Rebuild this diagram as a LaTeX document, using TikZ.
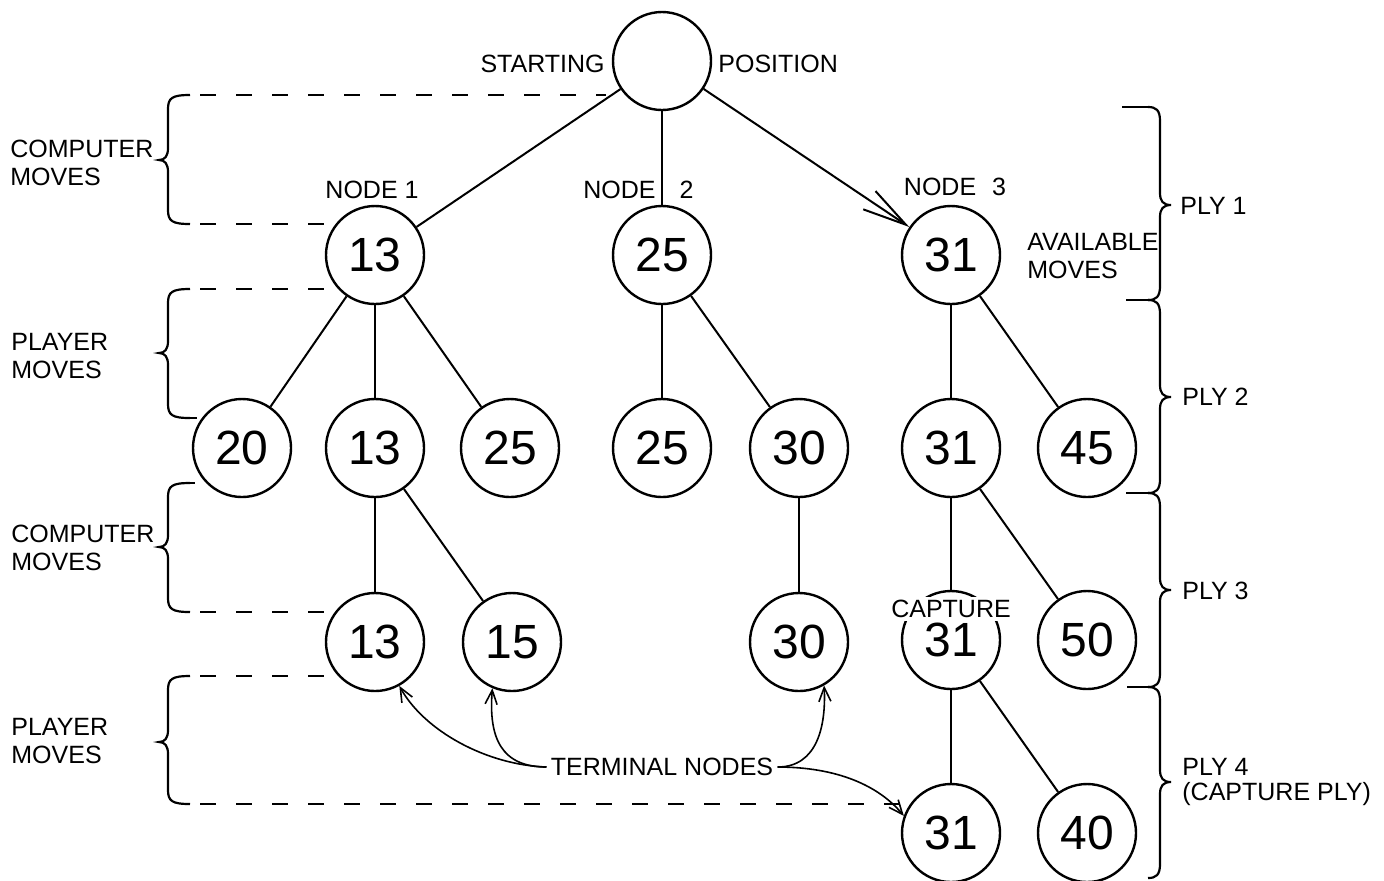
\documentclass[tikz,border=0pt]{standalone}
\usepackage{fontspec}
\setmainfont{Liberation Sans}
\usetikzlibrary{arrows.meta}
\newcommand{\LBr}[3]{\draw[brc] (190,#1) .. controls (172,#1) and (168,{#1+3}) .. (168,{#1+14}) -- (168,{#2-12}) .. controls (168,{#2-4}) and (165,#2) .. (159,#2) .. controls (165,#2) and (168,{#2+4}) .. (168,{#2+12}) -- (168,{#3-14}) .. controls (168,{#3-3}) and (172,#3) .. (190,#3);}
\newcommand{\RBr}[3]{\draw[brc] (1148,#1) .. controls (1156,#1) and (1160,{#1+3}) .. (1160,{#1+14}) -- (1160,{#2-12}) .. controls (1160,{#2-4}) and (1163,#2) .. (1171,#2) .. controls (1163,#2) and (1160,{#2+4}) .. (1160,{#2+12}) -- (1160,{#3-14}) .. controls (1160,{#3-3}) and (1156,#3) .. (1148,#3);}
\begin{document}
\begin{tikzpicture}[x=0.5pt,y=-0.5pt,
  num/.style={circle,draw,line width=1.2pt,minimum size=49pt,inner sep=0pt,font=\fontsize{24}{24}\selectfont},
  lbl/.style={inner sep=0pt,font=\fontsize{12.5}{14}\selectfont,align=left},
  edge/.style={line width=1pt},
  dashln/.style={line width=1pt,dash pattern=on 8pt off 10pt},
  brc/.style={line width=1.1pt},
  tarr/.style={line width=0.8pt,-{Straight Barb[length=7pt,width=6pt]}}]
\useasboundingbox (0,0) rectangle (1384,880);
% tree nodes
\node[num] (S) at (662,61) {};
\node[num] (a) at (375,255) {13};
\node[num] (b) at (662,255) {25};
\node[num] (c) at (951,255) {31};
\node[num] (a1) at (242,448) {20};
\node[num] (a2) at (375,448) {13};
\node[num] (a3) at (510,448) {25};
\node[num] (b1) at (662,448) {25};
\node[num] (b2) at (799,448) {30};
\node[num] (c1) at (951,448) {31};
\node[num] (c2) at (1087,448) {45};
\node[num] (a21) at (375,642) {13};
\node[num] (a22) at (512,642) {15};
\node[num] (b21) at (799,642) {30};
\node[num] (c11) at (951,640) {31};
\node[num] (c12) at (1087,640) {50};
\node[num] (c111) at (951,833) {31};
\node[num] (c112) at (1087,833) {40};
% edges
\draw[edge] (S) -- (a);
\draw[edge] (S) -- (b);
\draw[edge,-{Straight Barb[length=22pt,width=11pt]}] (S) -- (c);
\draw[edge] (a) -- (a1);
\draw[edge] (a) -- (a2);
\draw[edge] (a) -- (a3);
\draw[edge] (b) -- (b1);
\draw[edge] (b) -- (b2);
\draw[edge] (c) -- (c1);
\draw[edge] (c) -- (c2);
\draw[edge] (a2) -- (a21);
\draw[edge] (a2) -- (a22);
\draw[edge] (b2) -- (b21);
\draw[edge] (c1) -- (c11);
\draw[edge] (c1) -- (c12);
\draw[edge] (c11) -- (c111);
\draw[edge] (c11) -- (c112);
\node[lbl,fill=white,inner sep=1.5pt] (cap) at (951,609) {CAPTURE};
% labels
\node[lbl,anchor=base east] (st) at (605,72) {STARTING};
\node[lbl,anchor=base west] (po) at (718,72) {POSITION};
\node[lbl,anchor=base] (n1) at (372,198) {NODE 1};
\node[lbl,anchor=base west] (n2) at (583,198) {NODE\hspace{12pt}2};
\node[lbl,anchor=base] (n3) at (955,195) {NODE\hspace{8pt}3};
\node[lbl,anchor=north west] (cm1) at (10,140) {COMPUTER\\MOVES};
\node[lbl,anchor=north west] (pm1) at (11,333) {PLAYER\\MOVES};
\node[lbl,anchor=north west] (cm2) at (11,525) {COMPUTER\\MOVES};
\node[lbl,anchor=north west] (pm2) at (11,718) {PLAYER\\MOVES};
\node[lbl,anchor=north west] (av) at (1027,233) {AVAILABLE\\MOVES};
\node[lbl,anchor=north west] (p1) at (1180,197) {PLY 1};
\node[lbl,anchor=north west] (p2) at (1182,388) {PLY 2};
\node[lbl,anchor=north west] (p3) at (1182,582) {PLY 3};
\node[lbl,anchor=north west,font=\fontsize{12.5}{12.5}\selectfont] (p4) at (1182,758) {PLY 4\\(CAPTURE PLY)};
\node[lbl,inner sep=2pt] (t) at (662,767) {TERMINAL NODES};
% left braces and dashed guides
\LBr{95}{160}{224}
\LBr{289}{353}{418}
\LBr{483}{547}{612}
\LBr{676}{742}{804}
\draw[brc] (190,418) -- (197,418);
\draw[brc] (190,483) -- (195,483);
\coordinate (d1) at (606,95);
\draw[dashln] (200,95) -- (d1);
\draw[dashln] (200,224) -- (334,224);
\draw[dashln] (200,289) -- (334,289);
\draw[dashln] (200,612) -- (334,612);
\draw[dashln] (200,676) -- (332,676);
\draw[dashln] (200,804) -- (905,804);
% right braces
\RBr{107}{205}{300}
\RBr{300}{397}{493}
\RBr{493}{590}{687}
\RBr{687}{782}{878}
\draw[brc] (1122,107) -- (1148,107);
\draw[brc] (1126,300) -- (1148,300);
\draw[brc] (1126,493) -- (1148,493);
\draw[brc] (1127,687) -- (1148,687);
% terminal node arrows
\draw[tarr] (t.west) .. controls +(-60,-2) and +(25,45) .. (a21.-61);
\draw[tarr] (t.west) .. controls +(-45,0) and +(-4,50) .. (a22.-113);
\draw[tarr] (t.east) .. controls +(40,0) and +(2,40) .. (b21.-60);
\draw[tarr] (t.east) .. controls +(60,0) and +(-25,-30) .. (c111.160);
\end{tikzpicture}
\end{document}
